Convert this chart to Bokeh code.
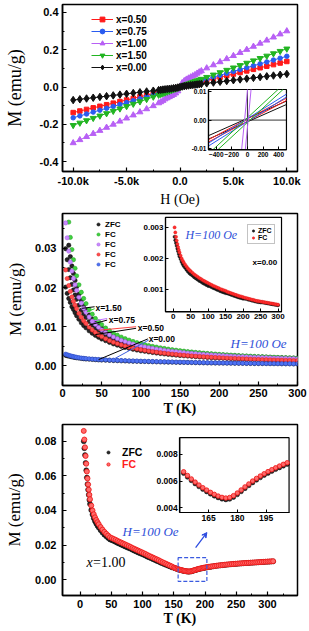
from bokeh.plotting import figure
from bokeh.models import (Range1d, LinearAxis, FixedTicker, NumeralTickFormatter,
                          Label, Legend, LegendItem, Arrow, VeeHead)
from bokeh.layouts import column
from bokeh.embed import file_html
from bokeh.resources import INLINE

nan = float("nan")

# ---------------- panel (a): M-H loops ----------------
H = [-10000, -9375, -8750, -8125, -7500, -6875, -6250, -5625, -5000, -4375, -3750, -3125, -2500,
     -2000, -1800, -1600, -1400, -1200, -1000, -800, -600, -400, -200, 0, 200, 400, 600, 800,
     1000, 1200, 1400, 1600, 1800, 2000,
     2500, 3125, 3750, 4375, 5000, 5625, 6250, 6875, 7500, 8125, 8750, 9375, 10000]
M_050 = [-0.1370, -0.1286, -0.1201, -0.1117, -0.1033, -0.0948, -0.0864, -0.0779, -0.0695, -0.0611, -0.0526, -0.0442, -0.0358,
         -0.0290, -0.0263, -0.0236, -0.0209, -0.0182, -0.0155, -0.0127, -0.0098, -0.0067, -0.0035, 0.0,
         0.0035, 0.0067, 0.0098, 0.0127, 0.0155, 0.0182, 0.0209, 0.0236, 0.0263, 0.0290,
         0.0358, 0.0442, 0.0526, 0.0611, 0.0695, 0.0779, 0.0864, 0.0948, 0.1033, 0.1117, 0.1201, 0.1286, 0.1370]
M_075 = [-0.1650, -0.1548, -0.1446, -0.1344, -0.1243, -0.1141, -0.1039, -0.0937, -0.0835, -0.0733, -0.0631, -0.0529, -0.0428,
         -0.0346, -0.0313, -0.0281, -0.0248, -0.0216, -0.0183, -0.0149, -0.0115, -0.0078, -0.0041, 0.0,
         0.0041, 0.0078, 0.0115, 0.0149, 0.0183, 0.0216, 0.0248, 0.0281, 0.0313, 0.0346,
         0.0428, 0.0529, 0.0631, 0.0733, 0.0835, 0.0937, 0.1039, 0.1141, 0.1243, 0.1344, 0.1446, 0.1548, 0.1650]
M_100 = [-0.3000, -0.2834, -0.2669, -0.2503, -0.2338, -0.2172, -0.2006, -0.1841, -0.1675, -0.1509, -0.1344, -0.1178, -0.1013,
         -0.086, -0.080, -0.073, -0.065, -0.059, -0.053, -0.047, -0.041, -0.033, -0.022, 0.0,
         0.022, 0.033, 0.041, 0.047, 0.053, 0.059, 0.065, 0.073, 0.080, 0.086,
         0.1013, 0.1178, 0.1344, 0.1509, 0.1675, 0.1841, 0.2006, 0.2172, 0.2338, 0.2503, 0.2669, 0.2834, 0.3000]
M_150 = [-0.2050, -0.1923, -0.1796, -0.1669, -0.1543, -0.1416, -0.1289, -0.1162, -0.1035, -0.0908, -0.0781, -0.0654, -0.0528,
         -0.0426, -0.0385, -0.0345, -0.0304, -0.0264, -0.0223, -0.0181, -0.0139, -0.0094, -0.0049, 0.0,
         0.0049, 0.0094, 0.0139, 0.0181, 0.0223, 0.0264, 0.0304, 0.0345, 0.0385, 0.0426,
         0.0528, 0.0654, 0.0781, 0.0908, 0.1035, 0.1162, 0.1289, 0.1416, 0.1543, 0.1669, 0.1796, 0.1923, 0.2050]
M_000 = [-0.0700, -0.0658, -0.0616, -0.0574, -0.0533, -0.0491, -0.0449, -0.0407, -0.0365, -0.0323, -0.0281, -0.0239, -0.0198,
         -0.0164, -0.0151, -0.0137, -0.0124, -0.0110, -0.0097, -0.0082, -0.0065, -0.0047, -0.0025, 0.0,
         0.0025, 0.0047, 0.0065, 0.0082, 0.0097, 0.0110, 0.0124, 0.0137, 0.0151, 0.0164,
         0.0198, 0.0239, 0.0281, 0.0323, 0.0365, 0.0407, 0.0449, 0.0491, 0.0533, 0.0574, 0.0616, 0.0658, 0.0700]

# inset (a): low-field branches
IH = [-500, 0, 500]
IN_000_DN = [-0.0054, 0.0006, 0.0066]
IN_000_UP = [-0.0066, -0.0006, 0.0054]
IN_050_DN = [-0.0068, 0.0004, 0.0076]
IN_050_UP = [-0.0076, -0.0004, 0.0068]
IN_075_DN = [-0.0080, 0.0005, 0.0090]
IN_075_UP = [-0.0090, -0.0005, 0.0080]
IN_150_DN_H = [-444, 0, 392]
IN_150_DN = [-0.0103, 0.0008, 0.0106]
IN_150_UP_H = [-380, 0, 456]
IN_150_UP = [-0.0103, -0.0008, 0.0106]
IN_100_A_H = [-75, -37, 1]
IN_100_B_H = [-28, 9, 46]
IN_100_M = [-0.0103, 0.0, 0.0106]

# ---------------- panel (b): M-T, H = 100 Oe ----------------
Tb = [4, 6, 8, 10, 12, 14, 16, 18, 21, 24, 27, 30, 34, 38, 42, 46, 50,
      55, 60, 65, 70, 75, 80, 85, 90, 95, 100, 105, 110, 115, 120, 125, 130, 135, 140, 145, 150,
      155, 160, 165, 170, 175, 180, 185, 190, 195, 200, 205, 210, 215, 220, 225, 230, 235, 240, 245, 250,
      255, 260, 265, 270, 275, 280, 285, 290, 295, 300]
FC_150 = [nan, nan, 0.0367, 0.0328, 0.0297, 0.0271, 0.0249, 0.0230, 0.0207, 0.0188, 0.0172, 0.0159, 0.0144, 0.0132, 0.0121, 0.0113, 0.0105,
          0.00967, 0.00897, 0.00836, 0.00783, 0.00736, 0.00695, 0.00658, 0.00624, 0.00594, 0.00567,
          0.00542, 0.00519, 0.00498, 0.00479, 0.00461, 0.00445, 0.00429, 0.00415, 0.00401, 0.00389,
          0.00377, 0.00366, 0.00355, 0.00345, 0.00336, 0.00327, 0.00318, 0.00310, 0.00303, 0.00295,
          0.00289, 0.00282, 0.00276, 0.00270, 0.00264, 0.00258, 0.00253, 0.00248, 0.00243, 0.00238,
          0.00234, 0.00230, 0.00225, 0.00221, 0.00217, 0.00214, 0.00210, 0.00206, 0.00203, 0.00200]
ZFC_150 = [nan, nan, 0.0308, 0.0279, 0.0255, 0.0236, 0.0218, 0.0202, 0.0183, 0.0167, 0.0154, 0.0143, 0.0130, 0.0120, 0.0111, 0.0104, 0.00966,
           0.00899, 0.00834, 0.00777, 0.00728, 0.00684, 0.00646, 0.00612, 0.00580, 0.00552, 0.00527,
           0.00509, 0.00488, 0.00468, 0.00450, 0.00433, 0.00418, 0.00403, 0.00390, 0.00377, 0.00366,
           0.00358, 0.00348, 0.00337, 0.00328, 0.00319, 0.00311, 0.00302, 0.00295, 0.00288, 0.00280,
           0.00277, 0.00271, 0.00265, 0.00259, 0.00253, 0.00248, 0.00243, 0.00238, 0.00233, 0.00228,
           0.00227, 0.00223, 0.00218, 0.00214, 0.00210, 0.00208, 0.00204, 0.00200, 0.00197, 0.00194]
FC_075 = [0.0365, 0.0327, 0.0293, 0.0265, 0.0242, 0.0223, 0.0207, 0.0193, 0.0175, 0.0160, 0.0147, 0.0137, 0.0125, 0.0114, 0.0106, 0.00984, 0.00920,
          0.00851, 0.00791, 0.00739, 0.00694, 0.00653, 0.00618, 0.00586, 0.00557, 0.00530, 0.00507,
          0.00485, 0.00465, 0.00446, 0.00429, 0.00414, 0.00399, 0.00385, 0.00373, 0.00361, 0.00349,
          0.00339, 0.00329, 0.00320, 0.00311, 0.00303, 0.00295, 0.00287, 0.00280, 0.00273, 0.00267,
          0.00261, 0.00255, 0.00249, 0.00244, 0.00239, 0.00234, 0.00229, 0.00224, 0.00220, 0.00216,
          0.00212, 0.00208, 0.00204, 0.00200, 0.00197, 0.00193, 0.00190, 0.00187, 0.00184, 0.00181]
ZFC_075 = [0.0299, 0.0271, 0.0246, 0.0225, 0.0208, 0.0194, 0.0181, 0.0170, 0.0155, 0.0142, 0.0132, 0.0123, 0.0113, 0.0104, 0.00970, 0.00905, 0.00846,
           0.00791, 0.00736, 0.00687, 0.00645, 0.00607, 0.00575, 0.00545, 0.00518, 0.00493, 0.00472,
           0.00456, 0.00437, 0.00419, 0.00403, 0.00389, 0.00375, 0.00362, 0.00351, 0.00339, 0.00328,
           0.00322, 0.00313, 0.00304, 0.00295, 0.00288, 0.00280, 0.00273, 0.00266, 0.00259, 0.00254,
           0.00251, 0.00245, 0.00239, 0.00234, 0.00229, 0.00225, 0.00220, 0.00215, 0.00211, 0.00207,
           0.00206, 0.00202, 0.00198, 0.00194, 0.00191, 0.00187, 0.00184, 0.00181, 0.00178, 0.00176]
FC_050 = [0.0245, 0.0223, 0.0205, 0.0190, 0.0176, 0.0165, 0.0155, 0.0146, 0.0134, 0.0124, 0.0115, 0.0108, 0.0099, 0.00915, 0.00851, 0.00795, 0.00746,
          0.00692, 0.00645, 0.00604, 0.00568, 0.00535, 0.00506, 0.00480, 0.00456, 0.00434, 0.00414,
          0.00396, 0.00379, 0.00364, 0.00350, 0.00336, 0.00324, 0.00312, 0.00301, 0.00291, 0.00281,
          0.00272, 0.00264, 0.00256, 0.00248, 0.00241, 0.00234, 0.00227, 0.00221, 0.00215, 0.00210,
          0.00204, 0.00199, 0.00194, 0.00189, 0.00185, 0.00181, 0.00176, 0.00172, 0.00168, 0.00165,
          0.00161, 0.00158, 0.00154, 0.00151, 0.00148, 0.00145, 0.00142, 0.00139, 0.00137, 0.00134]
ZFC_050 = [0.0201, 0.0185, 0.0172, 0.0162, 0.0151, 0.0144, 0.0136, 0.0128, 0.0119, 0.0110, 0.0103, 0.00972, 0.00896, 0.00833, 0.00779, 0.00731, 0.00686,
           0.00644, 0.00600, 0.00562, 0.00528, 0.00498, 0.00471, 0.00446, 0.00424, 0.00404, 0.00385,
           0.00372, 0.00356, 0.00342, 0.00329, 0.00316, 0.00305, 0.00293, 0.00283, 0.00274, 0.00264,
           0.00258, 0.00251, 0.00243, 0.00236, 0.00229, 0.00222, 0.00216, 0.00210, 0.00204, 0.00200,
           0.00196, 0.00191, 0.00186, 0.00181, 0.00178, 0.00174, 0.00169, 0.00165, 0.00161, 0.00158,
           0.00156, 0.00153, 0.00149, 0.00146, 0.00144, 0.00141, 0.00138, 0.00135, 0.00133, 0.00130]
FC_000 = [0.00300, 0.00284, 0.00270, 0.00258, 0.00247, 0.00237, 0.00228, 0.00220, 0.00210, 0.00201, 0.00194, 0.00188, 0.00181, 0.00175, 0.00169, 0.00164, 0.00160,
          0.00155, 0.00150, 0.00146, 0.00142, 0.00138, 0.00135, 0.00131, 0.00128, 0.00125, 0.00122,
          0.00119, 0.00116, 0.00113, 0.00111, 0.00108, 0.00106, 0.00103, 0.00101, 0.00099, 0.00097,
          0.00094, 0.00092, 0.00090, 0.00088, 0.00086, 0.00084, 0.00082, 0.00080, 0.00079, 0.00077,
          0.00075, 0.00074, 0.00072, 0.00071, 0.00069, 0.00068, 0.00066, 0.00065, 0.00064, 0.00063,
          0.00062, 0.00061, 0.00060, 0.00059, 0.00058, 0.00057, 0.00056, 0.00055, 0.00054, 0.00053]
ZFC_000 = [0.00270, 0.00259, 0.00250, 0.00241, 0.00232, 0.00224, 0.00215, 0.00207, 0.00199, 0.00190, 0.00183, 0.00177, 0.00171, 0.00165, 0.00159, 0.00154, 0.00150,
           0.00146, 0.00141, 0.00137, 0.00133, 0.00129, 0.00126, 0.00122, 0.00119, 0.00116, 0.00113,
           0.00112, 0.00109, 0.00106, 0.00104, 0.00101, 0.00099, 0.00096, 0.00094, 0.00092, 0.00090,
           0.00089, 0.00087, 0.00085, 0.00083, 0.00081, 0.00079, 0.00077, 0.00075, 0.00074, 0.00072,
           0.00072, 0.00071, 0.00069, 0.00068, 0.00066, 0.00065, 0.00063, 0.00062, 0.00061, 0.00060,
           0.00060, 0.00059, 0.00058, 0.00057, 0.00056, 0.00055, 0.00054, 0.00053, 0.00052, 0.00051]

# ---------------- panel (c): x = 1.00 ----------------
Tc = [6, 7, 8, 9, 10, 11, 12, 13, 14, 15, 16, 18, 20, 22, 24, 26, 28, 30, 33, 36, 39, 42, 45, 48,
      51, 54, 57, 60, 63, 66, 69, 72, 75, 78, 81, 84, 87, 90, 93, 96, 99, 102, 105, 108, 111, 114, 117, 120,
      123, 126, 129, 132, 135, 138, 141, 144, 147,
      150, 152, 154, 156, 158, 160, 162, 164, 166, 168, 170, 172, 174, 176, 178, 180, 182, 184, 186, 188,
      190, 192, 194, 196, 198, 200, 202, 204, 206, 208, 210,
      213, 216, 219, 222, 225, 228, 231, 234, 237, 240, 243, 246, 249, 252, 255, 258, 261, 264, 267, 270,
      273, 276, 279, 282, 285, 288, 291, 294, 297, 300, 303, 306, 309]
FC_c = [0.0860, 0.0810, 0.0765, 0.0715, 0.0670, 0.0625, 0.0585, 0.0550, 0.0520, 0.0490, 0.0465, 0.0428, 0.0400, 0.0378, 0.0360, 0.0345, 0.0332, 0.0320, 0.0304, 0.0289, 0.0276, 0.0265, 0.0255, 0.0245,
        0.0240, 0.0235, 0.0230, 0.0224, 0.0219, 0.0214, 0.0209, 0.0204, 0.0199, 0.0194, 0.0189, 0.0183, 0.0178, 0.0173, 0.0168, 0.0163, 0.0158, 0.0153, 0.0148, 0.0142, 0.0137, 0.0132, 0.0127, 0.0122,
        0.0117, 0.0112, 0.0106, 0.0101, 0.0096, 0.0091, 0.0086, 0.0081, 0.0076,
        0.00700, 0.00670, 0.00642, 0.00616, 0.00592, 0.00570, 0.00550, 0.00532, 0.00515, 0.00500, 0.00487, 0.00477, 0.00472, 0.00476, 0.00490, 0.00510, 0.00533, 0.00556, 0.00578, 0.00600,
        0.00620, 0.00638, 0.00655, 0.00671, 0.00686, 0.00700, 0.00713, 0.00726, 0.00738, 0.00750, 0.00760,
        0.00775, 0.00792, 0.00807, 0.00821, 0.00834, 0.00846, 0.00858, 0.00869, 0.00880, 0.00890, 0.00900, 0.00909, 0.00918, 0.00927, 0.00935, 0.00943, 0.00951, 0.00958, 0.00965, 0.00972,
        0.00979, 0.00986, 0.00993, 0.01000, 0.01007, 0.01014, 0.01021, 0.01028, 0.01035, 0.01042, 0.01049, 0.01056, 0.01063]
ZFC_c = [0.0800, 0.0760, 0.0720, 0.0675, 0.0632, 0.0590, 0.0552, 0.0519, 0.0490, 0.0461, 0.0437, 0.0402, 0.0376, 0.0355, 0.0338, 0.0324, 0.0312, 0.0301, 0.0286, 0.0272, 0.0260, 0.0250, 0.0241, 0.0232,
         0.0228, 0.0223, 0.0218, 0.0212, 0.0207, 0.0202, 0.0197, 0.0192, 0.0187, 0.0182, 0.0178, 0.0172, 0.0167, 0.0162, 0.0157, 0.0152, 0.0148, 0.0143, 0.0138, 0.0132, 0.0128, 0.0123, 0.0118, 0.0113,
         0.0108, 0.0104, 0.0098, 0.0094, 0.0089, 0.0085, 0.0080, 0.0076, 0.0071,
         0.00688, 0.00658, 0.00630, 0.00604, 0.00580, 0.00558, 0.00538, 0.00520, 0.00503, 0.00488, 0.00475, 0.00465, 0.00460, 0.00464, 0.00478, 0.00498, 0.00521, 0.00544, 0.00566, 0.00588,
         0.00608, 0.00626, 0.00643, 0.00659, 0.00674, 0.00688, 0.00701, 0.00714, 0.00726, 0.00738, 0.00748,
         0.00765, 0.00782, 0.00797, 0.00811, 0.00824, 0.00836, 0.00848, 0.00859, 0.00870, 0.00880, 0.00890, 0.00899, 0.00908, 0.00917, 0.00925, 0.00933, 0.00941, 0.00948, 0.00955, 0.00962,
         0.00969, 0.00976, 0.00983, 0.00990, 0.00997, 0.01004, 0.01011, 0.01018, 0.01025, 0.01032, 0.01039, 0.01046, 0.01053]

SANS = "Liberation Sans"
SERIF = "Liberation Serif"
BLUE_TXT = "#3050d8"


def base(h, xr, yr, top, bottom):
    p = figure(width=309, height=h, x_range=Range1d(*xr), y_range=Range1d(*yr),
               output_backend="svg", toolbar_location=None,
               min_border_left=62, min_border_right=12, min_border_top=top, min_border_bottom=bottom)
    p.xgrid.visible = False
    p.ygrid.visible = False
    p.outline_line_color = "black"
    p.outline_line_width = 1.5
    p.background_fill_color = "white"
    p.border_fill_color = "white"
    return p


def style_axis(ax, label, ticks, minor, fmt=None, overrides=None, tstand=3, lstand=2,
               lsize="16px", lstyle="normal"):
    ax.ticker = FixedTicker(ticks=ticks, minor_ticks=minor)
    if fmt:
        ax.formatter = NumeralTickFormatter(format=fmt)
    if overrides:
        ax.major_label_overrides = overrides
    ax.axis_label = label
    ax.axis_label_text_font = SERIF
    ax.axis_label_text_font_size = lsize
    ax.axis_label_text_font_style = lstyle
    ax.axis_label_text_color = "black"
    ax.major_label_text_font = SANS
    ax.major_label_text_font_style = "bold"
    ax.major_label_text_font_size = "11px"
    ax.major_label_text_color = "black"
    ax.axis_line_color = "black"
    ax.axis_line_width = 1.5
    ax.major_tick_line_color = "black"
    ax.major_tick_line_width = 1.2
    ax.minor_tick_line_color = "black"
    ax.major_tick_in = 4
    ax.major_tick_out = 0
    ax.minor_tick_in = 2
    ax.minor_tick_out = 0
    ax.major_label_standoff = tstand
    ax.axis_label_standoff = lstand


def add_inset(p, box_x, box_y, xr, yr, xticks, yticks, yfmt, fs):
    X0, X1 = p.x_range.start, p.x_range.end
    Y0, Y1 = p.y_range.start, p.y_range.end
    fx0 = (box_x[0] - X0) / (X1 - X0)
    fx1 = (box_x[1] - X0) / (X1 - X0)
    fy0 = (box_y[0] - Y0) / (Y1 - Y0)
    fy1 = (box_y[1] - Y0) / (Y1 - Y0)
    sx = (xr[1] - xr[0]) / (fx1 - fx0)
    sy = (yr[1] - yr[0]) / (fy1 - fy0)
    p.extra_x_ranges = {"ix": Range1d(xr[0] - fx0 * sx, xr[0] - fx0 * sx + sx)}
    p.extra_y_ranges = {"iy": Range1d(yr[0] - fy0 * sy, yr[0] - fy0 * sy + sy)}
    kw = dict(x_range_name="ix", y_range_name="iy")
    p.quad(left=[xr[0]], right=[xr[1]], bottom=[yr[0]], top=[yr[1]],
           fill_color="white", line_color="black", line_width=1.2, **kw)
    xa = LinearAxis(fixed_location=yr[0], bounds=xr,
                    ticker=FixedTicker(ticks=xticks, minor_ticks=[]), **kw)
    ya = LinearAxis(fixed_location=xr[0], bounds=yr,
                    ticker=FixedTicker(ticks=yticks, minor_ticks=[]),
                    formatter=NumeralTickFormatter(format=yfmt), **kw)
    for ax in (xa, ya):
        ax.major_label_text_font = SANS
        ax.major_label_text_font_style = "bold"
        ax.major_label_text_font_size = fs
        ax.major_label_text_color = "black"
        ax.axis_line_width = 1.2
        ax.major_tick_in = 3
        ax.major_tick_out = 0
        ax.minor_tick_in = 0
        ax.minor_tick_out = 0
        ax.major_label_standoff = 2
    p.add_layout(xa, "below")
    p.add_layout(ya, "left")
    return kw


def label(p, x, y, s, size, font=SANS, style="bold", color="black", align="left", baseline="middle", **kw):
    p.add_layout(Label(x=x, y=y, text=s, text_font=font, text_font_style=style,
                       text_font_size=size, text_color=color, text_align=align,
                       text_baseline=baseline, **kw))


def legend(items, loc, gw, gh, lh, fs, standoff=3, color="black", border=None, padding=0, bg=0):
    return Legend(items=items, location=loc, orientation="vertical", glyph_width=gw, glyph_height=gh,
                  label_height=lh, label_width=10, spacing=0, padding=padding, margin=0,
                  label_standoff=standoff, label_text_font=SANS, label_text_font_style="bold",
                  label_text_font_size=fs, label_text_color=color,
                  background_fill_color="white", background_fill_alpha=bg,
                  border_line_color=border, border_line_width=0.8)


# ======== (a) ========
pa = base(209, (-11000, 11000), (-0.453, 0.4425), 4, 36)
style_axis(pa.xaxis[0], "H (Oe)", [-10000, -5000, 0, 5000, 10000], [-7500, -2500, 2500, 7500],
           overrides={-10000: "-10.0k", -5000: "-5.0k", 0: "0.0", 5000: "5.0k", 10000: "10.0k"},
           tstand=3, lstand=2, lsize="14px")
style_axis(pa.yaxis[0], "M (emu/g)", [-0.4, -0.2, 0.0, 0.2, 0.4], [-0.3, -0.1, 0.1, 0.3], fmt="0.0",
           tstand=4, lstand=12, lsize="18px")

series_a = [("x=0.50", M_050, "#ff1a1a", "square", 4.5),
            ("x=0.75", M_075, "#2a5cf0", "circle", 4.5),
            ("x=1.00", M_100, "#b860f5", "triangle", 6),
            ("x=1.50", M_150, "#22b422", "inverted_triangle", 6),
            ("x=0.00", M_000, "#111111", "diamond", 7.5)]
items_a = []
for name, M, col, mk, sz in series_a:
    rl = pa.line(H, M, line_color=col, line_width=1)
    rs = pa.scatter(H, M, marker=mk, size=sz, fill_color=col, line_color=col)
    items_a.append(LegendItem(label=name, renderers=[rl, rs]))
pa.add_layout(legend(items_a, (29, 98), 22, 12, 12, "10px"))

ka = add_inset(pa, (2666, 9966), (-0.3366, -0.0133), (-500, 500), (-0.0103, 0.0106),
               [-400, -200, 0, 200, 400], [-0.01, 0.0, 0.01], "0.00", "6.5px")
pa.line([-500, 500], [0, 0], line_color="black", line_width=0.8, **ka)
pa.line([0, 0], [-0.0103, 0.0106], line_color="black", line_width=0.8, **ka)
for dn, up, col in ((IN_000_DN, IN_000_UP, "#111111"), (IN_050_DN, IN_050_UP, "#ff1a1a"),
                    (IN_075_DN, IN_075_UP, "#2a5cf0")):
    pa.line(IH, dn, line_color=col, line_width=1, **ka)
    pa.line(IH, up, line_color=col, line_width=1, **ka)
pa.line(IN_150_DN_H, IN_150_DN, line_color="#22b422", line_width=1, **ka)
pa.line(IN_150_UP_H, IN_150_UP, line_color="#22b422", line_width=1, **ka)
pa.line(IN_100_A_H, IN_100_M, line_color="#b860f5", line_width=1, **ka)
pa.line(IN_100_B_H, IN_100_M, line_color="#b860f5", line_width=1, **ka)
label(pa, -16500, 0.437, "(a)", "15px", font=SERIF, baseline="top")

# ======== (b) ========
pb = base(210, (0, 300), (-0.005, 0.0389), 4, 34)
style_axis(pb.xaxis[0], "T (K)", [0, 50, 100, 150, 200, 250, 300], [25, 75, 125, 175, 225, 275],
           tstand=3, lstand=1, lsize="14px", lstyle="bold")
style_axis(pb.yaxis[0], "M (emu/g)", [0.0, 0.01, 0.02, 0.03], [0.005, 0.015, 0.025, 0.035], fmt="0.00",
           tstand=6, lstand=7, lsize="17px")
zr = None
for Mz in (ZFC_150, ZFC_075, ZFC_050, ZFC_000):
    r = pb.scatter(Tb, Mz, marker="circle", size=4.3, fill_color="#262626", line_color="#000000", line_width=0.5)
    zr = zr or r
rg = pb.scatter(Tb, FC_150, marker="circle", size=4.3, fill_color="#3fd23f", line_color="#1f9f1f", line_width=0.5)
rv = pb.scatter(Tb, FC_075, marker="circle", size=4.3, fill_color="#c98bff", line_color="#a050e0", line_width=0.5)
rr = pb.scatter(Tb, FC_050, marker="circle", size=4.3, fill_color="#ff4d4d", line_color="#d81b1b", line_width=0.5)
rb = pb.scatter(Tb, FC_000, marker="circle", size=4.3, fill_color="#4f72f2", line_color="#2848c8", line_width=0.5)
pb.add_layout(legend([LegendItem(label="ZFC", renderers=[zr]), LegendItem(label="FC", renderers=[rg]),
                      LegendItem(label="FC", renderers=[rv]), LegendItem(label="FC", renderers=[rr]),
                      LegendItem(label="FC", renderers=[rb])], (32, 116), 8, 10, 10, "8px"))

# leader lines for the sample labels
LEAD_X0 = [41, 41, 57, 57, 94, 94, 109, 110]
LEAD_Y0 = [0.0151, 0.0146, 0.0121, 0.0117, 0.0100, 0.0096, 0.0069, 0.0066]
LEAD_X1 = [25, 31, 37, 34, 46, 42, 46, 66]
LEAD_Y1 = [0.0147, 0.0138, 0.0114, 0.0104, 0.0091, 0.0080, 0.0016, 0.0018]
LEAD_C = ["black", "#33cc33", "#c070ff", "black", "#ff4040", "black", "black", "#4060e0"]
pb.segment(LEAD_X0, LEAD_Y0, LEAD_X1, LEAD_Y1, line_color=LEAD_C, line_width=1)
label(pb, 42, 0.0149, "x=1.50", "8.5px")
label(pb, 59, 0.0118, "x=0.75", "8.5px")
label(pb, 96, 0.0097, "x=0.50", "8.5px")
label(pb, 110, 0.0069, "x=0.00", "8.5px")
label(pb, 214.5, 0.00567, "H=100 Oe", "13px", font=SERIF, style="italic", color=BLUE_TXT)
label(pb, -75, 0.0392, "(b)", "15px", font=SERIF, baseline="top")

kb = add_inset(pb, (131.5, 279.6), (0.0138, 0.0379), (-22, 310), (0.0003, 0.00332),
               [0, 50, 100, 150, 200, 250, 300], [0.001, 0.002, 0.003], "0.000", "8px")
izb = pb.scatter(Tb, ZFC_000, marker="circle", size=3.2, fill_color="#222222", line_color="#000000", line_width=0.4, **kb)
ifb = pb.scatter(Tb, FC_000, marker="circle", size=3.2, fill_color="#ff3030", line_color="#e01010", line_width=0.4, **kb)
label(pb, 35, 0.00275, "H=100 Oe", "12px", font=SERIF, style="italic", color=BLUE_TXT, **kb)
label(pb, 227, 0.00189, "x=0.00", "8px", **kb)
pb.add_layout(legend([LegendItem(label="ZFC", renderers=[izb]), LegendItem(label="FC", renderers=[ifb])],
                     (185, 141), 6, 7, 7, "7px", standoff=2, border="#888888", padding=2, bg=1))

# ======== (c) ========
pc = base(211, (-28, 348), (-0.0092, 0.0897), 5, 35)
style_axis(pc.xaxis[0], "T (K)", [0, 50, 100, 150, 200, 250, 300], [25, 75, 125, 175, 225, 275, 325],
           tstand=4, lstand=0, lsize="14px", lstyle="bold")
style_axis(pc.yaxis[0], "M (emu/g)", [0.0, 0.02, 0.04, 0.06, 0.08], [0.01, 0.03, 0.05, 0.07], fmt="0.00",
           tstand=6, lstand=8, lsize="17px")
rcz = pc.scatter(Tc, ZFC_c, marker="circle", size=5, fill_color="#2a2a2a", line_color="#000000", line_width=0.5)
rcf = pc.scatter(Tc, FC_c, marker="circle", size=5, fill_color="#ff6a6a", line_color="#ee1111", line_width=0.8)
pc.quad(left=[157], right=[203], bottom=[-0.001], top=[0.0127], fill_alpha=0,
        line_color="#3a5ae0", line_dash="4 2", line_width=1.2)
pc.add_layout(Arrow(end=VeeHead(size=5, line_color="#2a4ae0", fill_color="#2a4ae0"),
                    x_start=185, y_start=0.0185, x_end=203, y_end=0.0272,
                    line_color="#2a4ae0", line_width=1.2))
label(pc, 68, 0.0278, "H=100 Oe", "13px", font=SERIF, style="italic", color=BLUE_TXT)
label(pc, 10.5, 0.0099, "x", "14px", font=SERIF, style="italic")
label(pc, 20.9, 0.0099, "=1.00", "14px", font=SERIF, style="normal")
label(pc, -122, 0.0903, "(c)", "15px", font=SERIF, baseline="top")
pc.add_layout(legend([LegendItem(label="ZFC", renderers=[rcz])], (42, 137), 8, 12, 12, "10.5px", standoff=10))
pc.add_layout(legend([LegendItem(label="FC", renderers=[rcf])], (42, 125), 8, 12, 12, "10.5px", standoff=10,
                     color="#ff2020"))

kc = add_inset(pc, (159.7, 334.5), (0.0388, 0.0821), (150, 207), (0.00363, 0.00927),
               [165, 180, 195], [0.004, 0.006, 0.008], "0.000", "8.5px")
IT = [t for t in Tc if 150 < t < 207]
IZ = [z for t, z in zip(Tc, ZFC_c) if 150 < t < 207]
IF = [f for t, f in zip(Tc, FC_c) if 150 < t < 207]
pc.scatter(IT, IZ, marker="circle", size=4.5, fill_color="#2a2a2a", line_color="#000000", line_width=0.5, **kc)
pc.scatter(IT, IF, marker="circle", size=4.5, fill_color="#ff6a6a", line_color="#ee1111", line_width=0.8, **kc)

layout = column(pa, pb, pc)
open("out.html", "w").write(file_html(layout, INLINE))
